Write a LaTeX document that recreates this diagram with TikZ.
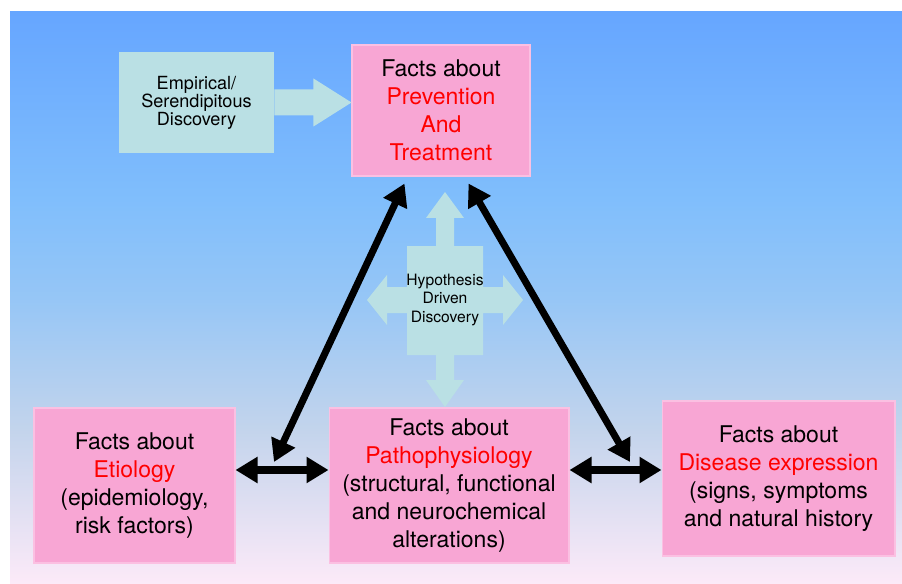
\documentclass[tikz,border=0pt]{standalone}
\usepackage{fontspec}
\setmainfont{TeX Gyre Heros}
\usepackage{tikz}
\usetikzlibrary{arrows.meta,calc}
\usetikzlibrary{positioning}
\definecolor{factpink}{RGB}{248,166,212}
\definecolor{factedge}{RGB}{251,192,226}
\definecolor{discocyan}{RGB}{186,224,228}
\definecolor{topicred}{RGB}{255,0,0}
\definecolor{bgtop}{RGB}{102,166,255}
\definecolor{bghigh}{RGB}{128,190,252}
\definecolor{bgmid}{RGB}{150,198,246}
\definecolor{bglow}{RGB}{195,212,236}
\definecolor{bgbot}{RGB}{252,234,248}
\pgfdeclareverticalshading{skyfade}{100bp}{color(0bp)=(bgbot); color(25bp)=(bgbot); color(38.5bp)=(bglow); color(50bp)=(bgmid); color(58.6bp)=(bghigh); color(75bp)=(bgtop); color(100bp)=(bgtop)}
\newcommand{\topic}[1]{\textcolor{topicred}{#1}}

\begin{document}
\begin{tikzpicture}[x=0.02cm,y=-0.02cm]
% box shapes and colors
\tikzstyle{fact}=[rectangle,fill=factpink,draw=factedge,line width=0.6pt,align=center,inner sep=0pt,font=\fontsize{13.1}{15.9}\selectfont]
\tikzstyle{disco}=[fill=discocyan]
\tikzstyle{dblarrow}=[{Triangle[length=0.44cm,width=0.5cm]}-{Triangle[length=0.44cm,width=0.5cm]},line width=4pt]

% background
\useasboundingbox (0,0) rectangle (902,584);
\shade[shading=skyfade] (10,12) rectangle (902,584);

% nodes
\node[fact,minimum width=3.56cm,minimum height=2.62cm] (prev) at (441,110.5) {Facts about\\\topic{Prevention}\\\topic{And}\\\topic{Treatment}};
\node[fact,minimum width=4.02cm,minimum height=3.1cm] (etio) at (134.5,485.5) {Facts about\\\topic{Etiology}\\(epidemiology,\\risk factors)};
\node[fact,minimum width=4.8cm,minimum height=3.1cm] (patho) at (449,485.5) {Facts about\\\topic{Pathophysiology}\\(structural, functional\\and neurochemical\\alterations)};
\node[fact,minimum width=4.66cm,minimum height=3.1cm] (dise) at (778.5,478.5) {Facts about\\\topic{Disease expression}\\(signs, symptoms\\and natural history};
\node[disco,align=center,inner sep=0pt,minimum width=3.1cm,minimum height=2.02cm,font=\fontsize{10.3}{10.3}\selectfont] (emp) at (196.5,102.5) {Empirical/\\Serendipitous\\Discovery};

% empirical arrow
\coordinate (emp-tip) at (prev.west |- emp.east);
\fill[disco] ($(emp.east)+(0,-13)$) -- ($(emp-tip)+(-38,-13)$) -- ($(emp-tip)+(-38,-24)$) -- (emp-tip)
  -- ($(emp-tip)+(-38,24)$) -- ($(emp-tip)+(-38,13)$) -- ($(emp.east)+(0,13)$) -- cycle;

% hypothesis cross
\coordinate (hyp-c) at (445,300);
\fill[disco,shift={(hyp-c)}] (0,-108) -- (19,-82) -- (9,-82) -- (9,-54) -- (38,-54) -- (38,-13) -- (58,-13) -- (58,-25)
  -- (78,0) -- (58,25) -- (58,13) -- (38,13) -- (38,55) -- (9,55) -- (9,80) -- (19,80) -- (0,107) -- (-19,80)
  -- (-9,80) -- (-9,55) -- (-38,55) -- (-38,13) -- (-58,13) -- (-58,25) -- (-78,0) -- (-58,-25) -- (-58,-13)
  -- (-38,-13) -- (-38,-54) -- (-9,-54) -- (-9,-82) -- (-19,-82) -- cycle;
\node[align=center,inner sep=0pt,font=\fontsize{8.9}{10.5}\selectfont] (hyp) at (hyp-c) {Hypothesis\\Driven\\Discovery};

% arrows
\foreach \from/\to in {etio/patho,patho/dise}
\draw[dblarrow] (\from.east |- 0,470) -- (\to.west |- 0,470);
\coordinate (ep) at (274,462);
\coordinate (pd) at (630,462);
\draw[dblarrow] ([shift={(53,7)}]prev.south west) -- (ep);
\draw[dblarrow] ([shift={(-62,7)}]prev.south east) -- (pd);
\end{tikzpicture}
\end{document}
